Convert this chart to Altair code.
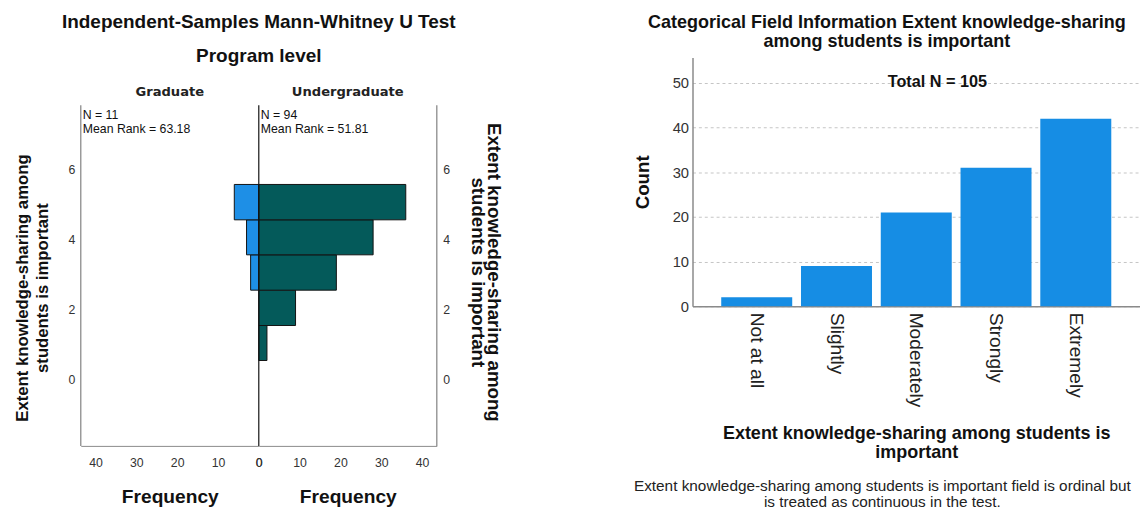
import altair as alt
import pandas as pd

# ---------------- data ----------------
categories = ["Not at all", "Slightly", "Moderately", "Strongly", "Extremely"]
total_counts = [2, 9, 21, 31, 42]
total_n = 105

# histogram bins (on the 1-5 rating scale)
bin_lower = [0.55, 1.55, 2.56, 3.57, 4.57]
bin_upper = [1.55, 2.56, 3.57, 4.57, 5.58]
grad_counts = [0, 0, 2, 3, 6]
under_counts = [2, 9, 19, 28, 36]

groups = ["Graduate", "Undergraduate"]
group_n = [11, 94]
mean_rank = [63.18, 51.81]

rating_ticks = [0, 2, 4, 6]
freq_ticks = [0, 10, 20, 30, 40]
count_ticks = [0, 10, 20, 30, 40, 50]

main_title = "Independent-Samples Mann-Whitney U Test"
sub_title = "Program level"
field_title = ["Extent knowledge-sharing among", "students is important"]
footnote = ("Extent knowledge-sharing among students is important field is ordinal but\n"
            "is treated as continuous in the test.")

FONT = "Liberation Sans"
FRAME = "#8a8a8a"

# ---------------- left: pyramid histogram ----------------
hist = pd.DataFrame({"lo": bin_lower, "hi": bin_upper,
                     "grad": grad_counts, "under": under_counts,
                     "base": [0] * len(bin_lower)})
grad_df = hist[hist["grad"] > 0]
under_df = hist[hist["under"] > 0]

frame_lo, frame_hi = -1.89, 7.84          # extent of the framed histogram area
ydom = [frame_lo, 9.21]                   # plot area reaches up to the right chart's top
xdom = [0, 43.6]
PW, PH = 181, 395

frame_df = pd.DataFrame({"x": [43.6], "x0": [0], "y": [frame_lo], "y2": [frame_hi]})
yscale = alt.Scale(domain=ydom, nice=False, zero=False)


def freq_axis():
    return alt.Axis(values=freq_ticks, ticks=False, grid=False, domainColor=FRAME,
                    labelFontSize=12.5, labelColor="#333", labelPadding=11,
                    labelFlush=False,
                    title="Frequency", titleFontSize=19.5, titleFontWeight="bold",
                    titleColor="#111", titlePadding=19)


def rating_axis(orient, angle, size, pad, lh, ty):
    return alt.Axis(orient=orient, values=rating_ticks, ticks=False, grid=False,
                    domain=False, labelFontSize=12.5, labelColor="#333",
                    labelPadding=6, title=field_title, titleFontSize=size,
                    titleFontWeight="bold", titleColor="#111", titleAngle=angle,
                    titlePadding=pad, titleLineHeight=lh, titleY=ty)


def label_text(txt, x, y, size, weight="normal", font=FONT, align="center",
               baseline="middle", color="#111"):
    return alt.Chart(pd.DataFrame({"t": [txt]})).mark_text(
        align=align, baseline=baseline, lineBreak="\n", fontSize=size,
        fontWeight=weight, font=font, color=color, lineHeight=14).encode(
        x=alt.value(x), y=alt.value(y), text="t:N")


def info_text(i):
    return label_text(f"N = {group_n[i]}\nMean Rank = {mean_rank[i]:.2f}",
                      2, 53, 12.5, align="left", baseline="top")


grad_bars = alt.Chart(grad_df).mark_rect(color="#1e8fe6", stroke="#111", strokeWidth=1).encode(
    x=alt.X("grad:Q", scale=alt.Scale(domain=xdom, reverse=True, nice=False, zero=False),
            axis=freq_axis()),
    x2="base:Q",
    y=alt.Y("lo:Q", scale=yscale, axis=rating_axis("left", -90, 17, 17, 20, 234)),
    y2="hi:Q",
)
grad_frame = alt.Chart(frame_df).mark_rule(color=FRAME, strokeWidth=1.3).encode(
    x="x:Q", y="y:Q", y2="y2:Q")
grad_panel = alt.layer(
    grad_bars, grad_frame, info_text(0),
    label_text(groups[0], PW / 2, 35, 13.3, "bold", "DejaVu Sans", color="#222"),
).properties(width=PW, height=PH)

under_bars = alt.Chart(under_df).mark_rect(color="#045a5a", stroke="#111", strokeWidth=1).encode(
    x=alt.X("under:Q", scale=alt.Scale(domain=xdom, nice=False, zero=False),
            axis=freq_axis()),
    x2="base:Q",
    y=alt.Y("lo:Q", scale=yscale, axis=rating_axis("right", 90, 19, 18, 17, 218)),
    y2="hi:Q",
)
under_frame = alt.Chart(frame_df).mark_rule(color=FRAME, strokeWidth=1.3).encode(
    x="x:Q", y="y:Q", y2="y2:Q")
zero_line = alt.Chart(frame_df).mark_rule(color="#111", strokeWidth=1.2).encode(
    x="x0:Q", y="y:Q", y2="y2:Q")
under_panel = alt.layer(
    under_bars, under_frame, zero_line, info_text(1),
    label_text(groups[1], PW / 2, 35, 13.3, "bold", "DejaVu Sans", color="#222"),
    label_text(main_title, 0, -36, 19.3, "bold"),
    label_text(sub_title, 0, -1, 19.3, "bold"),
).properties(width=PW, height=PH)

left = alt.hconcat(grad_panel, under_panel, spacing=0, bounds="flush")

# ---------------- right: categorical bar chart ----------------
RW, RH = 455, 253
cat_df = pd.DataFrame({"cat": categories, "count": total_counts})

right_bars = alt.Chart(cat_df).mark_bar(color="#168de4").encode(
    x=alt.X("cat:N", sort=categories,
            scale=alt.Scale(paddingInner=0.11, paddingOuter=0.36),
            axis=alt.Axis(labelAngle=90, labelAlign="left", labelBaseline="middle",
                          ticks=False, domainColor=FRAME, domainWidth=1.5,
                          labelFontSize=19.5, labelColor="#222", labelPadding=6,
                          title=["Extent knowledge-sharing among students is", "important"],
                          titleFontSize=18.3, titleFontWeight="bold", titleColor="#111",
                          titlePadding=18, titleLineHeight=19.5)),
    y=alt.Y("count:Q", scale=alt.Scale(domain=[0, 55.7], nice=False),
            axis=alt.Axis(values=count_ticks, ticks=False, domainColor=FRAME,
                          domainWidth=1.5, grid=True, gridDash=[3, 3],
                          gridColor="#c4c4c4", labelFontSize=15, labelColor="#333",
                          labelPadding=4, title="Count", titleFontSize=19,
                          titleFontWeight="bold", titleColor="#111", titlePadding=20)),
)
total_text = alt.Chart(pd.DataFrame({"t": [f"Total N =  {total_n}"]})).mark_text(
    fontSize=16.5, fontWeight="bold", font=FONT, color="#111", baseline="middle").encode(
    x=alt.value(249), y=alt.value(25), text="t:N")
foot_text = alt.Chart(pd.DataFrame({"t": [footnote]})).mark_text(
    fontSize=15.6, font=FONT, color="#222", align="center", baseline="top",
    lineBreak="\n", lineHeight=16).encode(
    x=alt.value(193), y=alt.value(429), text="t:N")

right = alt.layer(right_bars, total_text, foot_text).properties(
    width=RW, height=RH,
    title=alt.TitleParams(
        ["Categorical Field Information Extent knowledge-sharing",
         "among students is important"],
        fontSize=18.3, fontWeight="bold", color="#111", anchor="middle",
        frame="bounds", offset=6, lineHeight=19.5))

chart = alt.hconcat(left, right, spacing=133).properties(
    padding={"left": 6, "top": 1, "right": 0, "bottom": 0},
    background="white",
).configure(font=FONT).configure_view(
    stroke="transparent", strokeWidth=0
).configure_axis(labelFont=FONT, titleFont=FONT).configure_title(font=FONT)

chart.save("out.html", embed_options={"renderer": "svg", "actions": False})
